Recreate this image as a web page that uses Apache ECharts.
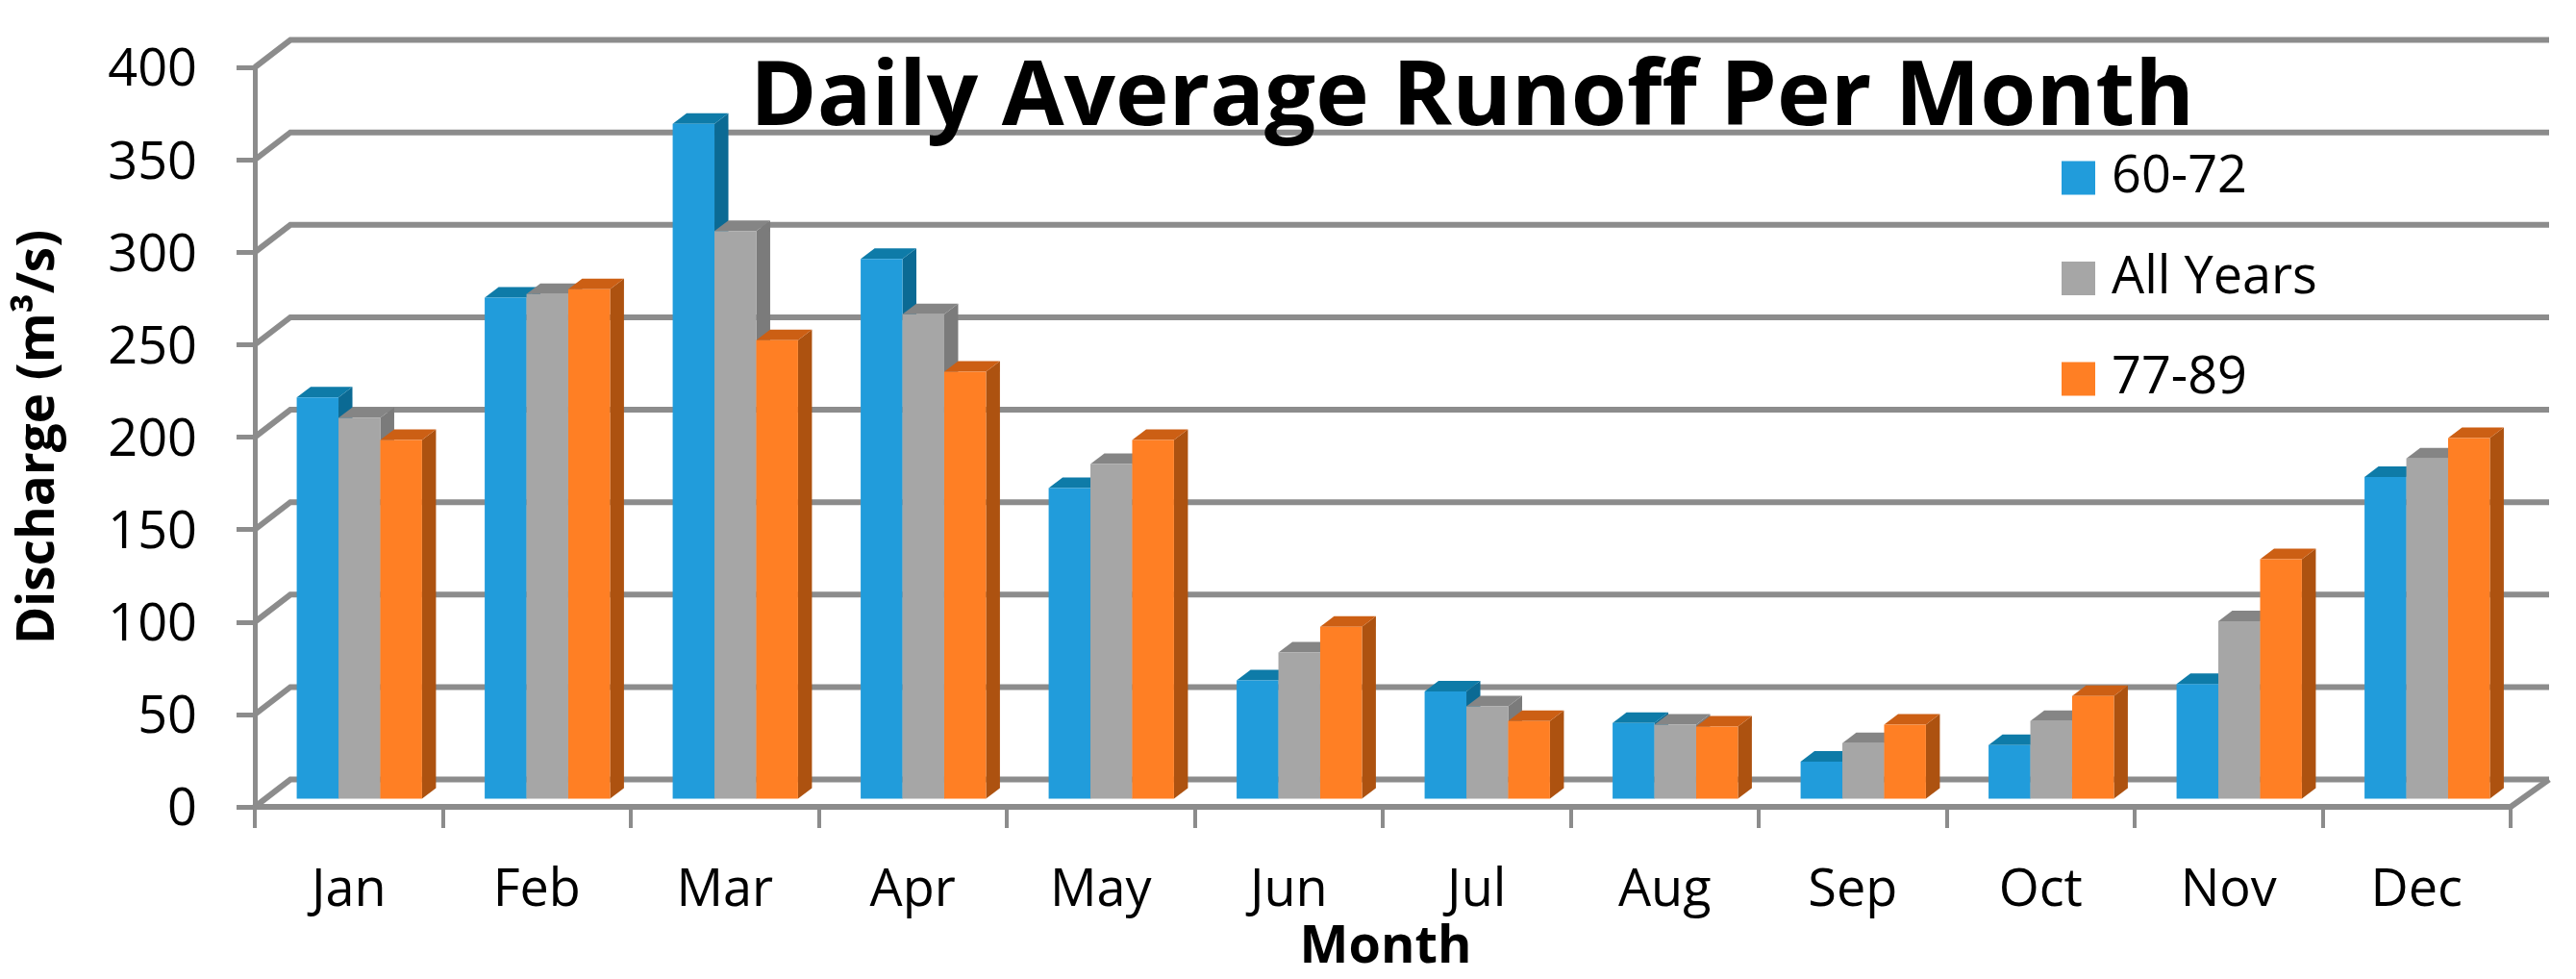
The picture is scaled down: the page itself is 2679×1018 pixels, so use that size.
<!DOCTYPE html>
<html><head><meta charset="utf-8">
<style>html,body{margin:0;padding:0;background:#fff}#c{width:2679px;height:1018px}</style>
<script src="https://cdn.jsdelivr.net/npm/echarts@6/dist/echarts.min.js"></script>
</head><body><div id="c"></div>
<script>
const months = ['Jan','Feb','Mar','Apr','May','Jun','Jul','Aug','Sep','Oct','Nov','Dec'];
const ticks = [0,50,100,150,200,250,300,350,400];
const s6072 = [217,271,365,292,168,64,58,41,20,29,62,174];
const sAll  = [206,273,307,262,181,79,50,40,30,42,96,184];
const s7789 = [194,275.5,248,231,194,93,42,39,40,55.5,129.5,195];
const FONT = '"Open Sans"';
const GRID = '#8c8c8c';

function wallItem(params, api) {
  const v = api.value(0);
  const y = api.coord([0, v])[1];
  const cs = params.coordSys;
  const L = cs.x, R = cs.x + cs.width, dx = 37, dy = -28.5, rx = 40;
  const style = {stroke: GRID, lineWidth: 6, fill: 'none', lineJoin: 'miter'};
  const kids = [
    {type:'polyline', shape:{points:[[L,y],[L+dx,y+dy],[R+rx,y+dy]]}, style}
  ];
  if (v === 0) kids.push({type:'polyline', shape:{points:[[R+rx,y+dy],[R,y]]}, style});
  return {type:'group', children: kids};
}

function barRenderer(slot, front, top, side) {
  return function (params, api) {
    const i = api.value(0), v = api.value(1);
    const band = api.size([1, 0])[0];
    const w = band * 0.2222;
    const offX = 11, offY = -8.5, ddx = 14.5, ddy = -11;
    const c = api.coord([i, v]), b = api.coord([i, 0]);
    const x0 = c[0] + offX + (slot - 1.5) * w, x1 = x0 + w;
    const yT = c[1] + offY, yB = b[1] + offY;
    const poly = (pts, fill) => ({type:'polygon', shape:{points:pts}, style:{fill}});
    return {type:'group', children:[
      poly([[x1,yT],[x1+ddx,yT+ddy],[x1+ddx,yB+ddy],[x1,yB]], side),
      poly([[x0,yT],[x0+ddx,yT+ddy],[x1+ddx,yT+ddy],[x1,yT]], top),
      poly([[x0,yT],[x1,yT],[x1,yB],[x0,yB]], front)
    ]};
  };
}

function barSeries(name, vals, slot, front, top, side) {
  return {
    name, type:'custom', z:3, itemStyle:{color:front},
    encode:{x:0,y:1},
    data: vals.map((v,i)=>[i,v]),
    renderItem: barRenderer(slot, front, top, side)
  };
}

const chart = echarts.init(document.getElementById('c'), null, {renderer:'canvas'});
chart.setOption({
  animation:false,
  backgroundColor:'#fff',
  title:{
    text:'Daily Average Runoff Per Month', left:1531, top:56, padding:0, textAlign:'center',
    textStyle:{fontFamily:FONT, fontWeight:'bold', fontSize:94, color:'#000'}, z:6
  },
  legend:{
    orient:'vertical', left:2144, top:158, padding:0, icon:'rect',
    itemWidth:35, itemHeight:35, itemGap:50.5,
    data:['60-72','All Years','77-89'],
    textStyle:{fontFamily:FONT, fontSize:54, color:'#000', padding:[5,0,0,12]}
  },
  grid:{left:265, top:70, width:2346, height:773, containLabel:false},
  xAxis:{
    type:'category', data:months,
    name:'Month', nameLocation:'middle', nameGap:120,
    nameTextStyle:{fontFamily:FONT, fontWeight:'bold', fontSize:54, color:'#000', padding:[0,0,0,6]},
    axisLine:{lineStyle:{color:GRID, width:6}},
    axisTick:{show:true, length:22, lineStyle:{color:GRID, width:4}},
    axisLabel:{fontFamily:FONT, fontSize:54, color:'#000', margin:61},
    splitLine:{show:false}
  },
  yAxis:{
    type:'value', min:0, max:400, interval:50,
    name:'Discharge (m³/s)', nameLocation:'middle', nameGap:198,
    nameTextStyle:{fontFamily:FONT, fontWeight:'bold', fontSize:53, color:'#000'},
    axisLine:{show:true, lineStyle:{color:GRID, width:5}},
    axisTick:{show:true, length:19, lineStyle:{color:GRID, width:5}},
    axisLabel:{
      margin:60, formatter:'{n|{value}}',
      rich:{n:{fontFamily:FONT, fontSize:54, color:'#000', padding:[8,0,0,0]}}
    },
    splitLine:{show:false}
  },
  series:[
    {type:'custom', silent:true, z:1, encode:{y:0}, data:ticks.map(t=>[t]), renderItem:wallItem},
    barSeries('60-72', s6072, 0, '#219cdb', '#0e7ba8', '#0b6a94'),
    barSeries('All Years', sAll, 1, '#a6a6a6', '#858585', '#7b7b7b'),
    barSeries('77-89', s7789, 2, '#ff7f24', '#cc5f14', '#ad5210')
  ]
});
</script></body></html>
